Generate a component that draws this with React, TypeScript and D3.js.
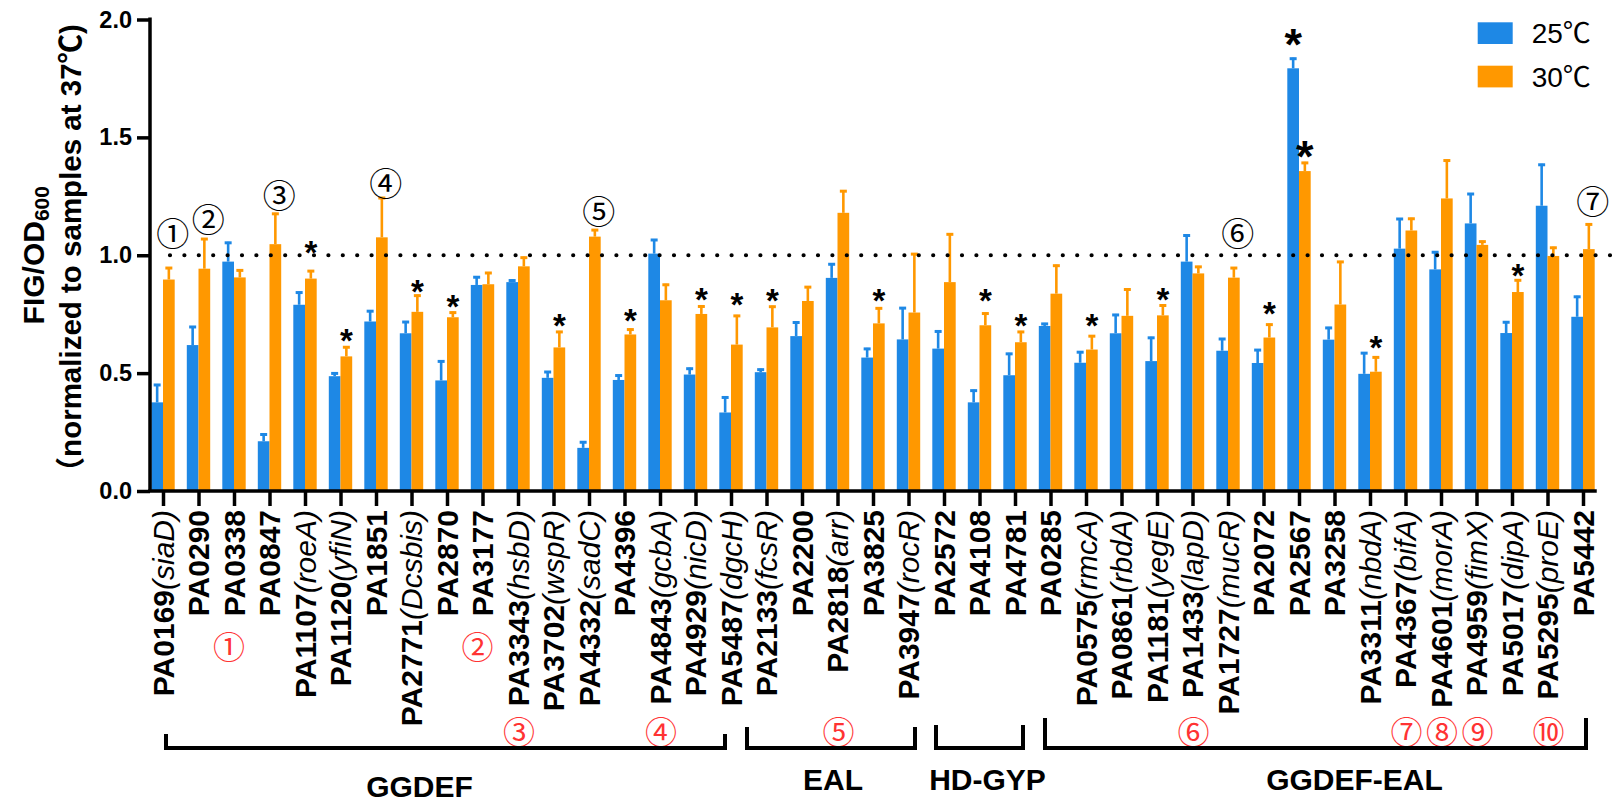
import { useEffect, useRef } from 'react';
import * as d3 from 'd3';

const genes = [
  'PA0169', 'PA0290', 'PA0338', 'PA0847', 'PA1107', 'PA1120', 'PA1851', 'PA2771', 'PA2870',
  'PA3177', 'PA3343', 'PA3702', 'PA4332', 'PA4396', 'PA4843', 'PA4929', 'PA5487',
  'PA2133', 'PA2200', 'PA2818', 'PA3825', 'PA3947',
  'PA2572', 'PA4108', 'PA4781',
  'PA0285', 'PA0575', 'PA0861', 'PA1181', 'PA1433', 'PA1727', 'PA2072', 'PA2567', 'PA3258',
  'PA3311', 'PA4367', 'PA4601', 'PA4959', 'PA5017', 'PA5295', 'PA5442',
];

const geneNames = [
  'siaD', '', '', '', 'roeA', 'yfiN', '', 'Dcsbis', '',
  '', 'hsbD', 'wspR', 'sadC', '', 'gcbA', 'nicD', 'dgcH',
  'fcsR', '', 'arr', '', 'rocR',
  '', '', '',
  '', 'rmcA', 'rbdA', 'yegE', 'lapD', 'mucR', '', '', '',
  'nbdA', 'bifA', 'morA', 'fimX', 'dipA', 'proE', '',
];

const series = ['25℃', '30℃'];

const mean25 = [
  0.376, 0.619, 0.973, 0.211, 0.79, 0.487, 0.719, 0.669, 0.469,
  0.874, 0.886, 0.48, 0.183, 0.471, 1.007, 0.494, 0.333,
  0.504, 0.657, 0.904, 0.566, 0.643,
  0.604, 0.376, 0.491,
  0.7, 0.544, 0.669, 0.551, 0.973, 0.595, 0.543, 1.793, 0.642,
  0.497, 1.028, 0.94, 1.135, 0.67, 1.21, 0.739,
];
const sd25 = [
  0.078, 0.081, 0.084, 0.033, 0.056, 0.016, 0.048, 0.052, 0.085,
  0.037, 0.011, 0.029, 0.028, 0.023, 0.062, 0.029, 0.068,
  0.015, 0.062, 0.062, 0.041, 0.137,
  0.077, 0.054, 0.095,
  0.013, 0.049, 0.082, 0.103, 0.115, 0.054, 0.059, 0.045, 0.054,
  0.092, 0.13, 0.077, 0.129, 0.05, 0.178, 0.089,
];
const mean30 = [
  0.897, 0.943, 0.906, 1.047, 0.901, 0.571, 1.076, 0.76, 0.737,
  0.877, 0.953, 0.609, 1.079, 0.664, 0.809, 0.751, 0.621,
  0.694, 0.806, 1.18, 0.711, 0.757,
  0.886, 0.703, 0.631,
  0.837, 0.6, 0.743, 0.745, 0.923, 0.905, 0.651, 1.357, 0.791,
  0.506, 1.105, 1.241, 1.044, 0.844, 0.997, 1.026,
];
const sd30 = [
  0.053, 0.13, 0.034, 0.133, 0.036, 0.043, 0.171, 0.073, 0.024,
  0.052, 0.041, 0.07, 0.032, 0.025, 0.07, 0.036, 0.126,
  0.092, 0.063, 0.096, 0.068, 0.252,
  0.207, 0.054, 0.048,
  0.123, 0.061, 0.116, 0.046, 0.032, 0.045, 0.059, 0.039, 0.185,
  0.065, 0.054, 0.165, 0.018, 0.054, 0.039, 0.109,
];

const yTicks = [0, 0.5, 1, 1.5, 2];

// significance stars (gene, series index, height in data units)
const starGenes = [
  'PA1107', 'PA1120', 'PA2771', 'PA2870', 'PA3702', 'PA4396', 'PA4929', 'PA5487', 'PA2133',
  'PA3825', 'PA4108', 'PA4781', 'PA0575', 'PA1181', 'PA2072', 'PA2567', 'PA2567', 'PA3311', 'PA5017',
];
const starSeries = [1, 1, 1, 1, 1, 1, 1, 1, 1, 1, 1, 1, 1, 1, 1, 0, 1, 1, 1];
const starLevels = [
  1.042, 0.669, 0.877, 0.812, 0.732, 0.753, 0.84, 0.821, 0.836,
  0.837, 0.836, 0.733, 0.733, 0.84, 0.781, 1.937, 1.459, 0.639, 0.943,
];
const bigStarGenes = ['PA2567'];

// black circled marks above bars
const topMarkGenes = ['PA0169', 'PA0290', 'PA0847', 'PA1851', 'PA4332', 'PA1727', 'PA5442'];
const topMarkLabels = ['①', '②', '③', '④', '⑤', '⑥', '⑦'];
const topMarkLevels = [1.097, 1.156, 1.258, 1.309, 1.194, 1.097, 1.233];

// red circled marks below the gene labels
const redMarkGenes = ['PA0338', 'PA3177', 'PA3343', 'PA4843', 'PA2818', 'PA1433', 'PA4367', 'PA4601', 'PA4959', 'PA5295'];
const redMarkLabels = ['①', '②', '③', '④', '⑤', '⑥', '⑦', '⑧', '⑨', '⑩'];

const groupNames = ['GGDEF', 'EAL', 'HD-GYP', 'GGDEF-EAL'];
const groupFirst = ['PA0169', 'PA2133', 'PA2572', 'PA0285'];
const groupLast = ['PA5487', 'PA3947', 'PA4781', 'PA5442'];

const WIDTH = 1615;
const HEIGHT = 802;
const COLORS = ['#1E88E5', '#FF9800'];
const RED = '#FF3333';
const FONT = "'Liberation Sans', Arial, 'Noto Sans CJK SC', sans-serif";
const CJK = "'Noto Sans CJK SC', 'Liberation Sans', sans-serif";

// hand-placed brackets in the original figure
const bracketLayout = [
  { dl: 3, dr: -6, top: 734, labelDx: -26, labelY: 797 },
  { dl: -19.5, dr: 6.5, top: 727, labelDx: 2, labelY: 790 },
  { dl: -8, dr: 8, top: 725, labelDx: 8, labelY: 790 },
  { dl: -5.5, dr: 3, top: 718, labelDx: 39, labelY: 790 },
];

export default function App() {
  const svgRef = useRef<SVGSVGElement>(null);

  useEffect(() => {
    if (!svgRef.current) return;
    const svg = d3.select(svgRef.current);
    svg.selectAll('*').remove();

    const axisX = 150;
    const x = d3.scalePoint<string>().domain(genes).range([163, 1583]);
    const inner = d3.scaleBand<string>().domain(series).range([-11.7, 11.7]);
    const y = d3.scaleLinear().domain([0, 2]).range([491, 19.5]);
    const bw = inner.bandwidth();

    const means = [mean25, mean30];
    const sds = [sd25, sd30];
    const barCenter = (gene: string, s: number) => (x(gene) ?? 0) + (inner(series[s]) ?? 0) + bw / 2;

    // bars
    series.forEach((name, s) => {
      svg
        .append('g')
        .selectAll('rect')
        .data(genes)
        .join('rect')
        .attr('x', (g) => (x(g) ?? 0) + (inner(name) ?? 0))
        .attr('y', (_, i) => y(means[s][i]))
        .attr('width', bw)
        .attr('height', (_, i) => y(0) - y(means[s][i]))
        .attr('fill', COLORS[s]);
    });

    // error bars (upper only)
    series.forEach((_, s) => {
      const eg = svg.append('g').attr('stroke', COLORS[s]);
      genes.forEach((g, i) => {
        const cx = barCenter(g, s);
        const top = y(means[s][i] + sds[s][i]);
        eg.append('line')
          .attr('x1', cx)
          .attr('x2', cx)
          .attr('y1', y(means[s][i]))
          .attr('y2', top)
          .attr('stroke-width', 2.6);
        eg.append('line')
          .attr('x1', cx - 3.5)
          .attr('x2', cx + 3.5)
          .attr('y1', top + 1)
          .attr('y2', top + 1)
          .attr('stroke-width', 3);
      });
    });

    // reference line at 1.0
    svg
      .append('line')
      .attr('x1', 170)
      .attr('x2', 1612)
      .attr('y1', y(1))
      .attr('y2', y(1))
      .attr('stroke', '#000')
      .attr('stroke-width', 4.2)
      .attr('stroke-linecap', 'round')
      .attr('stroke-dasharray', '0 14.4');

    // y axis
    svg
      .append('g')
      .attr('transform', `translate(${axisX},0)`)
      .call(
        d3
          .axisLeft(y)
          .tickValues(yTicks)
          .tickFormat(d3.format('.1f'))
          .tickSize(13)
          .tickSizeOuter(0)
          .tickPadding(5)
      )
      .call((group) => {
        group.select('.domain').attr('stroke-width', 3.5).attr('d', `M0,${y(2) - 2}V${y(0)}`);
        group.selectAll('.tick line').attr('stroke-width', 3.5);
        group
          .selectAll('.tick text')
          .attr('fill', '#000')
          .attr('font-size', 23.5)
          .attr('font-weight', 'bold')
          .attr('font-family', FONT);
      });

    // x axis
    const xAxisG = svg
      .append('g')
      .attr('transform', `translate(0,${y(0)})`)
      .call(d3.axisBottom(x).tickSize(15).tickSizeOuter(0).tickFormat(() => ''))
      .call((group) => {
        group.select('.domain').remove();
        group.selectAll('.tick line').attr('stroke-width', 3.5);
      });
    xAxisG
      .append('line')
      .attr('x1', axisX - 1.75)
      .attr('x2', 1583 + x.step() / 2 - 4)
      .attr('stroke', '#000')
      .attr('stroke-width', 3.5);

    // gene labels
    const labelTop = 510;
    const labels = svg
      .append('g')
      .attr('font-family', FONT)
      .attr('font-size', 30)
      .attr('fill', '#000');
    genes.forEach((g, i) => {
      const gx = x(g) ?? 0;
      const t = labels
        .append('text')
        .attr('x', gx)
        .attr('y', labelTop)
        .attr('dy', '0.36em')
        .attr('text-anchor', 'end')
        .attr('transform', `rotate(-90,${gx},${labelTop})`);
      t.append('tspan').attr('font-weight', 'bold').text(g);
      if (geneNames[i]) {
        t.append('tspan').attr('font-style', 'italic').text(`(${geneNames[i]})`);
      }
    });

    // red circled marks under labels
    redMarkGenes.forEach((g, k) => {
      const i = genes.indexOf(g);
      const long = Boolean(geneNames[i]);
      svg
        .append('text')
        .attr('x', (x(g) ?? 0) + (long ? 1 : -5))
        .attr('y', long ? 730 : 645)
        .attr('text-anchor', 'middle')
        .attr('dominant-baseline', 'central')
        .attr('font-family', CJK)
        .attr('font-size', 32)
        .attr('fill', RED)
        .text(redMarkLabels[k]);
    });

    // black circled marks above bars
    topMarkGenes.forEach((g, k) => {
      svg
        .append('text')
        .attr('x', barCenter(g, 1) + 4)
        .attr('y', y(topMarkLevels[k]))
        .attr('text-anchor', 'middle')
        .attr('dominant-baseline', 'central')
        .attr('font-family', CJK)
        .attr('font-size', 33)
        .attr('fill', '#000')
        .text(topMarkLabels[k]);
    });

    // stars
    starGenes.forEach((g, k) => {
      const fs = bigStarGenes.includes(g) ? 45 : 33;
      svg
        .append('text')
        .attr('x', barCenter(g, starSeries[k]))
        .attr('y', y(starLevels[k]) + fs * 0.56)
        .attr('text-anchor', 'middle')
        .attr('font-family', FONT)
        .attr('font-weight', 'bold')
        .attr('font-size', fs)
        .attr('fill', '#000')
        .text('*');
    });

    // group brackets
    const bottomY = 748;
    groupNames.forEach((name, k) => {
      const lay = bracketLayout[k];
      const left = (x(groupFirst[k]) ?? 0) + lay.dl;
      const right = (x(groupLast[k]) ?? 0) + lay.dr;
      svg
        .append('path')
        .attr('d', `M${left},${lay.top}V${bottomY}H${right}V${lay.top}`)
        .attr('fill', 'none')
        .attr('stroke', '#000')
        .attr('stroke-width', 4);
      svg
        .append('text')
        .attr('x', (left + right) / 2 + lay.labelDx)
        .attr('y', lay.labelY)
        .attr('text-anchor', 'middle')
        .attr('font-family', FONT)
        .attr('font-weight', 'bold')
        .attr('font-size', 30)
        .attr('fill', '#000')
        .text(name);
    });

    // y title
    const midY = (y(0) + y(2)) / 2;
    const t1 = svg
      .append('text')
      .attr('transform', `translate(43.5,${midY}) rotate(-90)`)
      .attr('text-anchor', 'middle')
      .attr('font-family', FONT)
      .attr('font-weight', 'bold')
      .attr('font-size', 30)
      .attr('fill', '#000');
    t1.append('tspan').text('FIG/OD');
    t1.append('tspan').attr('font-size', 21).attr('dy', 5).text('600');
    svg
      .append('text')
      .attr('transform', `translate(81,${midY}) rotate(-90)`)
      .attr('text-anchor', 'middle')
      .attr('font-family', FONT)
      .attr('font-weight', 'bold')
      .attr('font-size', 29.5)
      .attr('fill', '#000')
      .text('（normalized to samples at 37℃)');

    // legend
    const legend = svg.append('g').attr('transform', 'translate(1477.7,22.3)');
    series.forEach((name, s) => {
      legend
        .append('rect')
        .attr('x', 0)
        .attr('y', s * 43.4)
        .attr('width', 35)
        .attr('height', 21.7)
        .attr('fill', COLORS[s]);
      legend
        .append('text')
        .attr('x', 54)
        .attr('y', s * 43.4 + 21)
        .attr('font-family', FONT)
        .attr('font-size', 28)
        .attr('fill', '#000')
        .text(name);
    });
  }, []);

  return (
    <svg
      ref={svgRef}
      width={WIDTH}
      height={HEIGHT}
      viewBox={`0 0 ${WIDTH} ${HEIGHT}`}
      style={{ position: 'absolute', left: 0, top: 0, background: '#fff' }}
    />
  );
}
